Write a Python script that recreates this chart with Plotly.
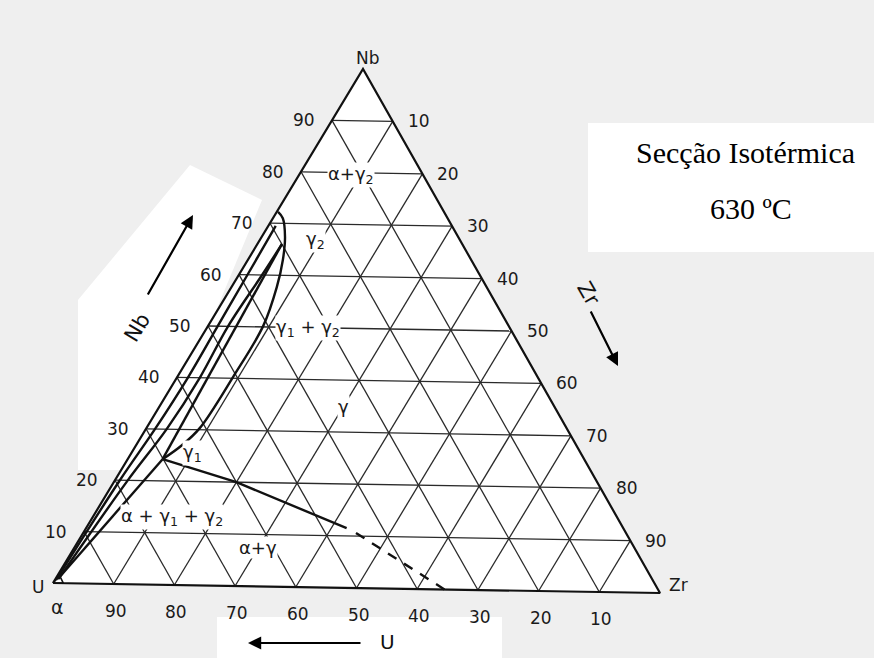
import numpy as np
import plotly.graph_objects as go

# ---- data (compositions in wt.%, U = 100 - Nb - Zr) ----
tick_values = [10, 20, 30, 40, 50, 60, 70, 80, 90]

# gamma / (gamma1 + gamma2) boundary
gap_nb = [24.2, 27.0, 30.3, 40.3, 50.2, 57.7, 63.0, 67.4, 71.0, 72.2]
gap_zr = [5.7, 7.5, 8.7, 9.1, 9.0, 7.4, 5.7, 3.8, 1.6, 0.2]

# alpha + gamma boundary (solid part and extrapolated part)
ag_solid_nb = [24.2, 20.0, 11.5]
ag_solid_zr = [5.7, 20.0, 42.5]
ag_dash_nb = [10.6, 0.0]
ag_dash_zr = [44.5, 64.5]

# three-phase triangle corners
alpha_pt = (0.8, 0.4)
gamma1_pt = (24.2, 5.7)
gamma2_pt = (66.0, 4.0)

# boundaries running close to the U-Nb side
side1_nb = [0.6, 20, 30, 40, 50, 60, 69.5]
side1_zr = [0.2, 0.8, 1.5, 1.8, 1.6, 1.4, 1.2]
side2_nb = [0.8, 20, 30, 40, 50, 60, 66.0]
side2_zr = [0.5, 2.1, 3.4, 3.75, 3.3, 3.8, 4.0]

# alpha field at the U corner
alpha_nb = [0.0, 0.0, 1.4, 0.0]
alpha_zr = [0.0, 1.7, 0.4, 0.0]

# phase-field labels: (Nb, Zr, text)
field_labels = [
    (79.5, 8.5, "α+γ<sub>2</sub>"),
    (67.0, 9.0, "γ<sub>2</sub>"),
    (50.0, 16.5, "γ<sub>1</sub> + γ<sub>2</sub>"),
    (35.0, 30.0, "γ"),
    (25.5, 10.0, "γ<sub>1</sub>"),
    (13.0, 13.0, "α + γ<sub>1</sub> + γ<sub>2</sub>"),
    (7.5, 30.0, "α+γ"),
]

# ---- page placement of the triangle corners (pixels) ----
P_U = (53.0, 583.0)
P_NB = (363.0, 69.0)
P_ZR = (660.0, 593.0)


def proj(nb, zr):
    nb = np.asarray(nb, dtype=float) / 100.0
    zr = np.asarray(zr, dtype=float) / 100.0
    u = 1.0 - nb - zr
    x = u * P_U[0] + nb * P_NB[0] + zr * P_ZR[0]
    y = u * P_U[1] + nb * P_NB[1] + zr * P_ZR[1]
    return x, y


fig = go.Figure()

# paper patches behind the captions
shapes = [
    dict(type="rect", x0=588, y0=123, x1=874, y1=252, fillcolor="white", line_width=0, layer="below"),
    dict(type="rect", x0=217, y0=617, x1=502, y1=658, fillcolor="white", line_width=0, layer="below"),
    dict(type="path", path="M 78 300 L 190 165 L 262 200 L 150 470 L 78 470 Z",
         fillcolor="white", line_width=0, layer="below"),
]

GRID = dict(color="#2a2a2a", width=1.3)
BOLD = dict(color="#111111", width=2.4)


def seg(nb, zr, line, dash=None, shape="linear"):
    x, y = proj(nb, zr)
    ln = dict(line)
    if dash:
        ln["dash"] = dash
    ln["shape"] = shape
    fig.add_trace(go.Scatter(x=x, y=y, mode="lines", line=ln,
                             hoverinfo="skip", showlegend=False))


# white triangle face
tx, ty = proj([0, 100, 0, 0], [0, 0, 100, 0])
fig.add_trace(go.Scatter(x=tx, y=ty, mode="lines", fill="toself",
                         fillcolor="white", line=dict(width=0),
                         hoverinfo="skip", showlegend=False))

# grid lines
for t in tick_values:
    seg([t, t], [0, 100 - t], GRID)          # constant Nb
    seg([0, 100 - t], [t, t], GRID)          # constant Zr
    seg([0, t], [t, 0], GRID)                # constant U

# triangle edges
seg([0, 100, 0, 0], [0, 0, 100, 0], dict(color="#111111", width=2.2))

# phase boundaries
seg(gap_nb, gap_zr, BOLD, shape="spline")
seg(ag_solid_nb, ag_solid_zr, BOLD)
seg(ag_dash_nb, ag_dash_zr, BOLD, dash="10px,9px")
seg([alpha_pt[0], gamma1_pt[0]], [alpha_pt[1], gamma1_pt[1]], BOLD)
seg([gamma1_pt[0], gamma2_pt[0]], [gamma1_pt[1], gamma2_pt[1]], BOLD)
seg(side1_nb, side1_zr, BOLD, shape="spline")
seg(side2_nb, side2_zr, BOLD, shape="spline")
seg(alpha_nb, alpha_zr, dict(color="#111111", width=1.6))

ann = []
TICKFONT = dict(family="DejaVu Sans", size=17, color="#1a1a1a")

# Nb scale (left side)
for t in tick_values:
    x, y = proj(t, 0)
    ann.append(dict(x=float(x) - 28, y=float(y), text=str(t), showarrow=False,
                    font=TICKFONT))
# Zr scale (right side)
for t in tick_values:
    x, y = proj(100 - t, t)
    ann.append(dict(x=float(x) + 26, y=float(y), text=str(t), showarrow=False,
                    font=TICKFONT))
# U scale (bottom)
for t in tick_values:
    x, y = proj(0, 100 - t)
    ann.append(dict(x=float(x) + 2, y=float(y) + 27, text=str(t), showarrow=False,
                    font=TICKFONT))

# corner labels
x, y = proj(100, 0)
ann.append(dict(x=float(x) + 5, y=float(y) - 11, text="Nb", showarrow=False, font=TICKFONT))
x, y = proj(0, 0)
ann.append(dict(x=float(x) - 15, y=float(y) + 4, text="U", showarrow=False, font=TICKFONT))
ann.append(dict(x=float(x) + 4, y=float(y) + 24, text="α", showarrow=False,
                font=dict(family="DejaVu Sans", size=19, color="#1a1a1a")))
x, y = proj(0, 100)
ann.append(dict(x=float(x) + 18, y=float(y) - 8, text="Zr", showarrow=False, font=TICKFONT))

# phase field labels (grid is blanked behind them)
PF = dict(family="DejaVu Sans", size=18, color="#1a1a1a")
for (nb, zr, txt) in field_labels:
    x, y = proj(nb, zr)
    ann.append(dict(x=float(x), y=float(y), text=txt, showarrow=False, font=PF,
                    bgcolor="white", borderpad=0))

# axis titles with arrows
ann.append(dict(x=137, y=328, text="Nb", showarrow=False, textangle=-59,
                font=dict(family="DejaVu Sans", size=21, color="#111")))
ann.append(dict(x=193, y=215, ax=147, ay=296, xref="x", yref="y", axref="x", ayref="y",
                text="", showarrow=True, arrowhead=2, arrowsize=1.2, arrowwidth=2.2,
                arrowcolor="#000"))
ann.append(dict(x=387, y=642, text="U", showarrow=False,
                font=dict(family="DejaVu Sans", size=20, color="#111")))
ann.append(dict(x=248, y=643, ax=362, ay=643, xref="x", yref="y", axref="x", ayref="y",
                text="", showarrow=True, arrowhead=2, arrowsize=1.2, arrowwidth=2.2,
                arrowcolor="#000"))
ann.append(dict(x=588, y=293, text="Zr", showarrow=False, textangle=60,
                font=dict(family="DejaVu Sans", size=21, color="#111")))
ann.append(dict(x=618, y=366, ax=590, ay=310, xref="x", yref="y", axref="x", ayref="y",
                text="", showarrow=True, arrowhead=2, arrowsize=1.2, arrowwidth=2.2,
                arrowcolor="#000"))

# title text
SERIF = dict(family="Liberation Serif", size=30, color="#000")
ann.append(dict(x=745, y=152, text="Secção Isotérmica", showarrow=False, font=SERIF))
ann.append(dict(x=751, y=208, text="630 ºC", showarrow=False, font=SERIF))

for a in ann:
    a.setdefault("xref", "x")
    a.setdefault("yref", "y")

fig.update_layout(
    width=874, height=658, margin=dict(l=0, r=0, t=0, b=0),
    paper_bgcolor="#efefef", plot_bgcolor="#efefef",
    xaxis=dict(range=[0, 874], visible=False, fixedrange=True),
    yaxis=dict(range=[658, 0], visible=False, fixedrange=True),
    annotations=ann, shapes=shapes, showlegend=False,
)

fig.write_html("out.html")
